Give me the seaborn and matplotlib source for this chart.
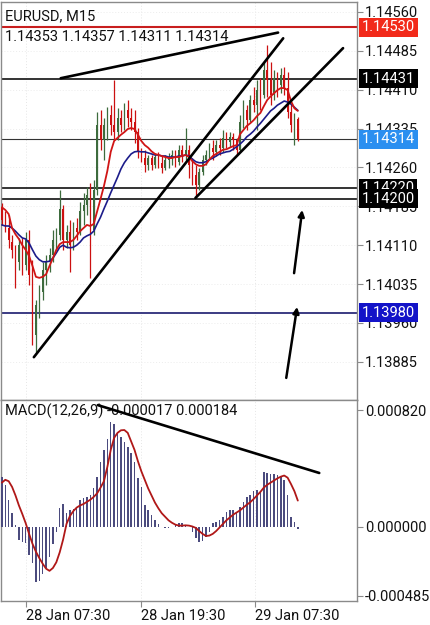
import numpy as np
import pandas as pd
import matplotlib
matplotlib.use("Agg")
import matplotlib.pyplot as plt
import matplotlib.transforms as mtransforms
import seaborn as sns

# ---------------- data ----------------
opens = [1.14183, 1.14163, 1.14143, 1.14116, 1.14101, 1.14078, 1.14111, 1.14072, 1.14120, 1.14053,
         1.13937, 1.13995, 1.14020, 1.14062, 1.14078, 1.14091, 1.14120, 1.14130, 1.14179, 1.14120,
         1.14136, 1.14111, 1.14143, 1.14136, 1.14175, 1.14188, 1.14207, 1.14140, 1.14217, 1.14342,
         1.14313, 1.14342, 1.14361, 1.14342, 1.14328, 1.14355, 1.14342, 1.14370, 1.14355, 1.14348,
         1.14328, 1.14290, 1.14278, 1.14265, 1.14278, 1.14265, 1.14280, 1.14269, 1.14259, 1.14275,
         1.14278, 1.14284, 1.14271, 1.14294, 1.14284, 1.14294, 1.14265, 1.14246, 1.14226, 1.14251,
         1.14275, 1.14284, 1.14298, 1.14290, 1.14303, 1.14298, 1.14317, 1.14309, 1.14319, 1.14313,
         1.14294, 1.14348, 1.14370, 1.14351, 1.14390, 1.14380, 1.14409, 1.14399, 1.14448, 1.14428,
         1.14399, 1.14432, 1.14419, 1.14438, 1.14413, 1.14367, 1.14323, 1.14353]
highs = [1.14192, 1.14175, 1.14169, 1.14130, 1.14111, 1.14124, 1.14124, 1.14136, 1.14140, 1.14082,
         1.14005, 1.14034, 1.14078, 1.14091, 1.14105, 1.14140, 1.14143, 1.14217, 1.14188, 1.14149,
         1.14159, 1.14155, 1.14163, 1.14194, 1.14211, 1.14223, 1.14230, 1.14236, 1.14367, 1.14370,
         1.14355, 1.14376, 1.14380, 1.14428, 1.14374, 1.14370, 1.14384, 1.14390, 1.14374, 1.14370,
         1.14336, 1.14298, 1.14294, 1.14284, 1.14284, 1.14288, 1.14290, 1.14282, 1.14284, 1.14288,
         1.14294, 1.14294, 1.14303, 1.14303, 1.14336, 1.14303, 1.14278, 1.14265, 1.14259, 1.14284,
         1.14294, 1.14307, 1.14313, 1.14313, 1.14317, 1.14332, 1.14328, 1.14328, 1.14326, 1.14317,
         1.14361, 1.14390, 1.14380, 1.14399, 1.14415, 1.14428, 1.14432, 1.14463, 1.14496, 1.14463,
         1.14448, 1.14444, 1.14452, 1.14454, 1.14444, 1.14384, 1.14365, 1.14357]
lows = [1.14149, 1.14136, 1.14105, 1.14086, 1.14028, 1.14062, 1.14053, 1.14062, 1.14034, 1.13918,
        1.13904, 1.13970, 1.14005, 1.14034, 1.14059, 1.14078, 1.14101, 1.14120, 1.14101, 1.14105,
        1.14059, 1.14101, 1.14120, 1.14130, 1.14149, 1.14169, 1.14047, 1.14130, 1.14207, 1.14294,
        1.14275, 1.14313, 1.14323, 1.14313, 1.14313, 1.14328, 1.14332, 1.14338, 1.14332, 1.14307,
        1.14278, 1.14271, 1.14251, 1.14255, 1.14255, 1.14259, 1.14259, 1.14250, 1.14255, 1.14259,
        1.14265, 1.14261, 1.14265, 1.14271, 1.14275, 1.14240, 1.14226, 1.14203, 1.14217, 1.14246,
        1.14265, 1.14275, 1.14275, 1.14282, 1.14284, 1.14290, 1.14298, 1.14300, 1.14294, 1.14284,
        1.14290, 1.14336, 1.14332, 1.14348, 1.14367, 1.14332, 1.14370, 1.14394, 1.14396, 1.14380,
        1.14390, 1.14396, 1.14403, 1.14399, 1.14355, 1.14328, 1.14303, 1.14311]
closes = [1.14159, 1.14143, 1.14120, 1.14101, 1.14078, 1.14111, 1.14072, 1.14120, 1.14053, 1.13937,
          1.13995, 1.14020, 1.14062, 1.14078, 1.14091, 1.14120, 1.14130, 1.14179, 1.14120, 1.14136,
          1.14111, 1.14143, 1.14136, 1.14175, 1.14188, 1.14207, 1.14140, 1.14217, 1.14342, 1.14313,
          1.14342, 1.14361, 1.14342, 1.14328, 1.14355, 1.14342, 1.14370, 1.14355, 1.14348, 1.14328,
          1.14290, 1.14278, 1.14265, 1.14278, 1.14265, 1.14280, 1.14269, 1.14259, 1.14275, 1.14278,
          1.14284, 1.14271, 1.14294, 1.14284, 1.14294, 1.14265, 1.14246, 1.14226, 1.14251, 1.14275,
          1.14284, 1.14298, 1.14290, 1.14303, 1.14298, 1.14317, 1.14309, 1.14319, 1.14313, 1.14294,
          1.14348, 1.14370, 1.14351, 1.14390, 1.14380, 1.14409, 1.14399, 1.14448, 1.14428, 1.14399,
          1.14432, 1.14419, 1.14438, 1.14413, 1.14367, 1.14342, 1.14353, 1.14314]

ma_fast = [1.14183, 1.14178, 1.14170, 1.14143, 1.14131, 1.14122, 1.14110, 1.14101, 1.14089, 1.14070,
           1.14049, 1.14047, 1.14049, 1.14054, 1.14070, 1.14085, 1.14101, 1.14112, 1.14116, 1.14116,
           1.14116, 1.14120, 1.14128, 1.14137, 1.14143, 1.14149, 1.14147, 1.14151, 1.14175, 1.14199,
           1.14224, 1.14253, 1.14290, 1.14311, 1.14317, 1.14323, 1.14328, 1.14334, 1.14336, 1.14334,
           1.14323, 1.14311, 1.14303, 1.14298, 1.14291, 1.14286, 1.14284, 1.14282, 1.14280, 1.14278,
           1.14278, 1.14280, 1.14280, 1.14282, 1.14284, 1.14280, 1.14272, 1.14266, 1.14263, 1.14263,
           1.14266, 1.14275, 1.14282, 1.14286, 1.14290, 1.14294, 1.14295, 1.14298, 1.14301, 1.14303,
           1.14324, 1.14332, 1.14340, 1.14345, 1.14351, 1.14359, 1.14365, 1.14378, 1.14390, 1.14397,
           1.14403, 1.14409, 1.14413, 1.14413, 1.14409, 1.14388, 1.14374, 1.14369]
ma_slow = [1.14149, 1.14147, 1.14147, 1.14143, 1.14137, 1.14130, 1.14124, 1.14122, 1.14114, 1.14101,
           1.14089, 1.14082, 1.14078, 1.14078, 1.14079, 1.14085, 1.14095, 1.14106, 1.14110, 1.14106,
           1.14105, 1.14106, 1.14110, 1.14116, 1.14124, 1.14128, 1.14131, 1.14137, 1.14151, 1.14164,
           1.14180, 1.14195, 1.14211, 1.14226, 1.14241, 1.14257, 1.14269, 1.14278, 1.14286, 1.14290,
           1.14291, 1.14290, 1.14290, 1.14288, 1.14286, 1.14284, 1.14284, 1.14282, 1.14282, 1.14280,
           1.14280, 1.14280, 1.14282, 1.14282, 1.14284, 1.14282, 1.14276, 1.14271, 1.14269, 1.14269,
           1.14271, 1.14275, 1.14278, 1.14282, 1.14286, 1.14288, 1.14290, 1.14291, 1.14295, 1.14300,
           1.14305, 1.14311, 1.14319, 1.14324, 1.14330, 1.14338, 1.14345, 1.14353, 1.14361, 1.14369,
           1.14374, 1.14380, 1.14384, 1.14388, 1.14386, 1.14382, 1.14376, 1.14370]

# MACD values in millionths
macd_main_e6 = [350, 290, 190, 95, 15, -90, -110, -115, -200, -255,
                -385, -380, -330, -290, -210, -120, -35, 135, 160, 100,
                117, 122, 136, 187, 199, 211, 223, 275, 350, 455,
                540, 620, 735, 725, 668, 633, 597, 560, 515, 455,
                340, 280, 150, 117, 82, 47, 20, -5, -12, -12,
                -5, 12, 28, 25, 15, -5, -40, -80, -105, -100,
                -70, -35, 23, 35, 47, 70, 105, 117, 117, 100,
                140, 176, 206, 222, 253, 258, 250, 387, 375, 370,
                372, 365, 355, 330, 220, 70, 35, -17]
macd_signal_e6 = [310, 330, 320, 280, 220, 150, 90, 25, -50, -120,
                  -175, -220, -260, -295, -310, -290, -250, -180, -90, 20,
                  75, 110, 135, 150, 160, 175, 190, 210, 235, 275,
                  320, 420, 540, 625, 660, 678, 680, 660, 600, 540,
                  460, 390, 330, 270, 220, 170, 130, 95, 70, 45,
                  28, 15, 8, 8, 10, 8, 2, -8, -30, -50,
                  -65, -62, -50, -30, -5, 20, 45, 65, 85, 100,
                  115, 135, 155, 172, 195, 220, 245, 275, 295, 310,
                  325, 340, 352, 360, 345, 300, 250, 184]

price_ticks = [1.14560, 1.14485, 1.14410, 1.14335, 1.14260, 1.14185, 1.14110, 1.14035, 1.13960, 1.13885]
macd_ticks = [0.000820, 0.000000, -0.000485]
date_tick_bars = [7.0, 40.8, 74.5]
date_labels = ["28 Jan 07:30", "28 Jan 19:30", "29 Jan 07:30"]

level_prices = [1.14530, 1.14431, 1.14314, 1.14220, 1.14200, 1.13980]
level_labels = ["1.14530", "1.14431", "1.14314", "1.14220", "1.14200", "1.13980"]

# user-drawn trendlines: (bar, price) pairs
trend_top = ([17.3, 81.2], [1.14432, 1.14520])
trend_chan_up = ([9.4, 82.7], [1.13894, 1.14509])
trend_chan_lo = ([56.9, 100.3], [1.14201, 1.14490])
arrow1 = ((85.9, 1.14056), (88.3, 1.14178))
arrow2 = ((83.6, 1.13854), (86.8, 1.13991))
macd_trend = ([28.2, 93.3], [0.000855, 0.000378])

symbol_text = "EURUSD, M15"
ohlc_text = "1.14353 1.14357 1.14311 1.14314"
macd_text = "MACD(12,26,9) -0.000017 0.000184"

# ---------------- styling ----------------
sns.set_theme(style="white")
plt.rcParams["font.family"] = ["Roboto", "DejaVu Sans"]

df = pd.DataFrame({
    "bar": np.arange(len(closes)),
    "open": opens, "high": highs, "low": lows, "close": closes,
    "ma_fast": ma_fast, "ma_slow": ma_slow,
    "macd": np.array(macd_main_e6) * 1e-6,
    "signal": np.array(macd_signal_e6) * 1e-6,
})

W, H = 430, 625
fig = plt.figure(figsize=(W / 100, H / 100), dpi=100)
ax = fig.add_axes([0.002, 1 - 400 / H, 357 / W - 0.002, 398 / H])
ax2 = fig.add_axes([0.002, 1 - 601 / H, 357 / W - 0.002, 201 / H])

XL = (-0.3, 104.4)
gray = "#8a8a8a"
FS = 10.5

# grid (faint dotted)
for a in (ax, ax2):
    for xv in date_tick_bars:
        a.axvline(xv, color="#e6e6e6", lw=0.7, ls=(0, (1, 2)), zorder=0)
for yv in price_ticks:
    ax.axhline(yv, color="#ececec", lw=0.7, ls=(0, (1, 2)), zorder=0)

# candles
bull = df["close"] >= df["open"]
cols = np.where(bull, "#3d6b3d", "#cc1010")
ax.vlines(df["bar"], df["low"], df["high"], colors=cols, lw=0.9, zorder=3)
body_lo = np.minimum(df["open"], df["close"])
body_h = np.maximum(np.abs(df["close"] - df["open"]), 0.000015)
ax.bar(df["bar"], body_h, bottom=body_lo, width=0.42, color=cols, lw=0, zorder=3)

# moving averages
sns.lineplot(data=df, x="bar", y="ma_slow", ax=ax, color="#1c1c8a", lw=1.2, zorder=4)
sns.lineplot(data=df, x="bar", y="ma_fast", ax=ax, color="#d01515", lw=1.3, zorder=5)

# horizontal levels
level_styles = [("#c81e1e", 1.5), ("#111111", 1.2), ("#333333", 0.8),
                ("#111111", 1.2), ("#111111", 1.2), ("#1a1a6e", 1.2)]
for lvl, (c, lw) in zip(level_prices, level_styles):
    ax.axhline(lvl, color=c, lw=lw, zorder=2)

# trendlines
for xs, ys in (trend_top, trend_chan_up, trend_chan_lo):
    ax.plot(xs, ys, color="black", lw=1.9, solid_capstyle="round", zorder=6)
for tail, head in (arrow1, arrow2):
    ax.annotate("", xy=head, xytext=tail,
                arrowprops=dict(arrowstyle="-|>", color="black", lw=1.8,
                                mutation_scale=9, shrinkA=0, shrinkB=0), zorder=6)

ax.set_xlim(*XL)
ax.set_ylim(1.138114, 1.14579)
ax.yaxis.tick_right()
ax.set_yticks(price_ticks)
ax.set_yticklabels([f"{v:.5f}" for v in price_ticks])
ax.set_xticks(date_tick_bars)
ax.tick_params(axis="x", length=0, labelbottom=False)
ax.tick_params(axis="y", right=True, length=4, width=0.8, color=gray,
               labelsize=FS, pad=1.5, labelcolor="#111111")
ax.set_xlabel("")
ax.set_ylabel("")

# price level labels (boxes on the axis)
box_colors = ["#f22a1a", "#000000", "#2b8ff0", "#000000", "#000000", "#1313c8"]
for lvl, lab, bc in zip(level_prices, level_labels, box_colors):
    ax.annotate(lab, xy=(1.0, lvl), xycoords=("axes fraction", "data"),
                xytext=(3.5, 0), textcoords="offset points", ha="left", va="center",
                fontsize=FS, color="white", annotation_clip=False, zorder=20,
                bbox=dict(boxstyle="square,pad=0.18", fc=bc, ec="none"))

ax.text(0.012, 14 / 398 * -1 + 1 - 0.0, symbol_text, transform=ax.transAxes,
        fontsize=FS, color="#111111", va="center", ha="left")
ax.text(0.012, 1 - 35 / 398, ohlc_text, transform=ax.transAxes,
        fontsize=FS, color="#111111", va="center", ha="left")

# ---------------- MACD panel ----------------
ax2.bar(df["bar"], df["macd"], width=0.45, color="#4b4b7e", lw=0, zorder=3)
sns.lineplot(data=df, x="bar", y="signal", ax=ax2, color="#b01818", lw=1.3, zorder=4)
ax2.plot(macd_trend[0], macd_trend[1], color="black", lw=1.9, solid_capstyle="round", zorder=6)

ax2.set_xlim(*XL)
ax2.set_ylim(-0.000522, 0.000891)
ax2.yaxis.tick_right()
ax2.set_yticks(macd_ticks)
ax2.set_yticklabels([f"{v:.6f}" for v in macd_ticks])
ax2.set_xticks(date_tick_bars)
ax2.set_xticklabels(date_labels)
for t in ax2.get_xticklabels():
    t.set_ha("left")
ax2.tick_params(axis="x", bottom=True, length=4, width=0.8, color=gray,
                labelsize=FS, pad=1.5, labelcolor="#111111")
ax2.tick_params(axis="y", right=True, length=4, width=0.8, color=gray,
                labelsize=FS, pad=1.5, labelcolor="#111111")
ax2.set_xlabel("")
ax2.set_ylabel("")
ax2.text(0.012, 1 - 11 / 201, macd_text, transform=ax2.transAxes,
         fontsize=FS, color="#111111", va="center", ha="left", zorder=1)

for a in (ax, ax2):
    for s in a.spines.values():
        s.set_color(gray)
        s.set_linewidth(1.0)
        s.set_visible(True)

fig.savefig("out.png", dpi=100, facecolor="white")
